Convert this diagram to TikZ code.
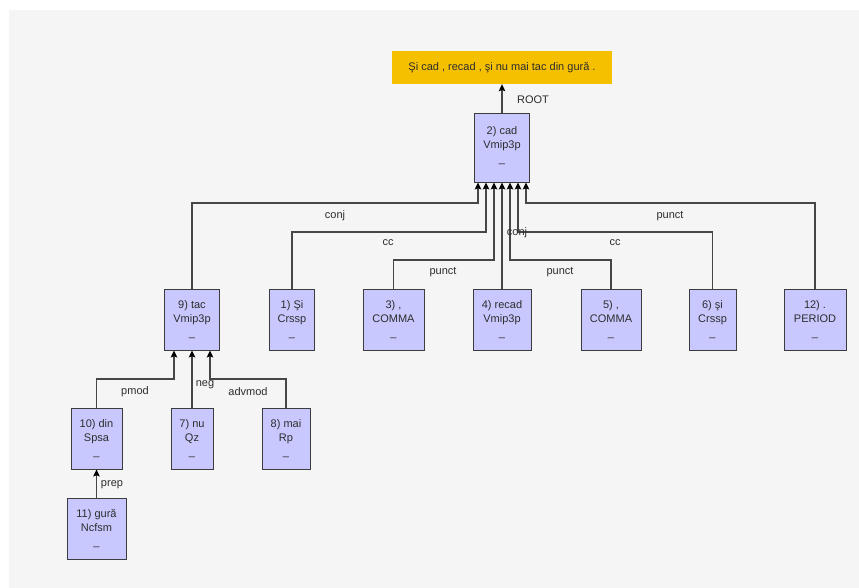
\documentclass[tikz,border=0pt]{standalone}
\usepackage{fontspec}
\setmainfont{Liberation Sans}
\usetikzlibrary{arrows.meta}
\definecolor{bgc}{RGB}{245,245,245}
\definecolor{boxc}{RGB}{200,200,255}
\definecolor{boxbd}{RGB}{60,60,60}
\definecolor{rootc}{RGB}{245,192,0}
\definecolor{linec}{RGB}{70,70,70}
\definecolor{txtc}{RGB}{45,45,45}
\begin{document}
\begin{tikzpicture}[x=1pt,y=-1pt,
  font=\fontsize{11}{14}\selectfont,
  tok/.style={draw=boxbd, fill=boxc, line width=0.9pt, minimum height=61pt, inner sep=0pt, align=center, text=txtc},
  rootbox/.style={fill=rootc, minimum width=220pt, minimum height=33pt, inner sep=0pt, text=txtc},
  edge/.style={draw=linec, line width=1.1pt, -{Stealth[length=7pt,width=6.5pt,inset=1.2pt,color=black]}},
  lab/.style={text=txtc, inner sep=0pt}]
\useasboundingbox (0,0) rectangle (859,588);
\fill[white] (0,0) rectangle (859,588);
\fill[bgc] (9,10) rectangle (859,588);

% nodes
\node[rootbox] (root) at (502,67.5) {Şi cad , recad , şi nu mai tac din gură .};
\node[tok, minimum width=55pt, minimum height=69pt] (cad) at (502,147.5) {2) cad\\Vmip3p\\\_\rule[-5pt]{0pt}{0pt}};

\node[tok, minimum width=55pt] (tac) at (192,319.5) {9) tac\\Vmip3p\\\_};
\node[tok, minimum width=45pt] (si1) at (292,319.5) {1) Şi\\Crssp\\\_};
\node[tok, minimum width=61pt] (c3) at (393.5,319.5) {3) ,\\COMMA\\\_};
\node[tok, minimum width=58pt] (recad) at (502,319.5) {4) recad\\Vmip3p\\\_};
\node[tok, minimum width=60pt] (c5) at (611,319.5) {5) ,\\COMMA\\\_};
\node[tok, minimum width=47pt] (si6) at (712.5,319.5) {6) şi\\Crssp\\\_};
\node[tok, minimum width=62pt] (per) at (815,319.5) {12) .\\PERIOD\\\_};

\node[tok, minimum width=51pt] (din) at (96.5,438.5) {10) din\\Spsa\\\_};
\node[tok, minimum width=42pt] (nu) at (192,438.5) {7) nu\\Qz\\\_};
\node[tok, minimum width=48pt] (mai) at (286,438.5) {8) mai\\Rp\\\_};
\node[tok, minimum width=59pt] (gura) at (96.5,528.5) {11) gură\\Ncfsm\\\_};

% helper coordinates
\coordinate (c1) at ([xshift=-24pt]cad.south);
\coordinate (c2) at ([xshift=-16pt]cad.south);
\coordinate (c3in) at ([xshift=-8pt]cad.south);
\coordinate (c4) at (cad.south);
\coordinate (c5in) at ([xshift=8pt]cad.south);
\coordinate (c6) at ([xshift=16pt]cad.south);
\coordinate (c7) at ([xshift=24pt]cad.south);
\coordinate (hA) at (0,203);
\coordinate (hB) at (0,232);
\coordinate (hC) at (0,260);
\coordinate (t1) at ([xshift=-18pt]tac.south);
\coordinate (t2) at (tac.south);
\coordinate (t3) at ([xshift=18pt]tac.south);
\coordinate (hD) at (0,379);

% edges
\draw[edge] (cad.north) -- (root.south);
\draw[edge] (tac.north) |- (c1 |- hA) -- (c1);
\draw[edge] (si1.north) |- (c2 |- hB) -- (c2);
\draw[edge] (c3.north) |- (c3in |- hC) -- (c3in);
\draw[edge] (recad.north) -- (c4);
\draw[edge] (c5.north) |- (c5in |- hC) -- (c5in);
\draw[edge] (si6.north) |- (c6 |- hB) -- (c6);
\draw[edge] (per.north) |- (c7 |- hA) -- (c7);
\draw[edge] (din.north) |- (t1 |- hD) -- (t1);
\draw[edge] (nu.north) -- (t2);
\draw[edge] (mai.north) |- (t3 |- hD) -- (t3);
\draw[edge] (gura.north) -- (din.south);

% labels
\node[lab] (lroot) at (533,100) {ROOT};
\node[lab] (l1) at (335,216) {conj};
\node[lab] (l2) at (388,243) {cc};
\node[lab] (l3) at (443,272) {punct};
\node[lab] (l4) at (517,233) {conj};
\node[lab] (l5) at (560,272) {punct};
\node[lab] (l6) at (615,243) {cc};
\node[lab] (l7) at (670,216) {punct};
\node[lab] (l8) at (135,392) {pmod};
\node[lab] (l9) at (205,385) {neg};
\node[lab] (l10) at (248,392) {advmod};
\node[lab] (l11) at (112,485) {prep};
\end{tikzpicture}
\end{document}
